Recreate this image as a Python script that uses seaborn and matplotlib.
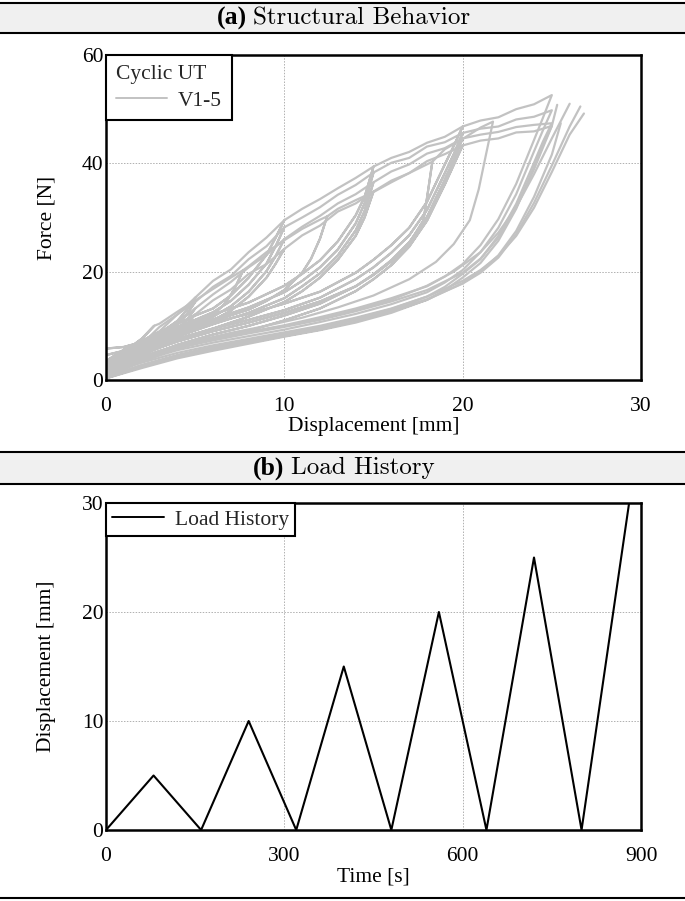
import numpy as np
import pandas as pd
import seaborn as sns
import matplotlib.pyplot as plt
from matplotlib.patches import Rectangle
from matplotlib.lines import Line2D

# ---- data ----
# virgin loading envelope, displacement grid [mm]
env_d = [0, 1, 2, 3, 4, 5, 6, 7, 8, 9, 10, 11, 12, 13, 14, 15, 16, 17, 18, 19, 20, 21, 22, 23, 24, 25]

# unloading paths (displacement points) for the regular 5/10/15/20/25 cycles
rd5 = [5, 4.5, 4, 3, 2, 1, 0]
rd10 = [10, 9.5, 9, 8, 7, 6, 5, 4, 3, 2, 1, 0]
rd15 = [15, 14.5, 14, 13, 12, 11, 10, 8, 6, 4, 2, 0]
rd20 = [20, 19.5, 19, 18, 17, 16, 15, 14, 12, 10, 8, 6, 4, 2, 0]
rd25 = [25, 24.5, 24, 23, 22, 21, 20, 19, 18, 16, 14, 12, 10, 8, 6, 4, 2, 0]

# V1
v1_env = [1.5, 4.4, 6.6, 9.8, 12.1, 15.2, 18.3, 20.4, 23.6, 26.3, 29.0, 31.6, 33.4, 35.4, 37.3, 39.1,
          41.0, 42.1, 43.8, 44.9, 46.4, 47.9, 48.5, 50.0, 50.9, 52.3]
v1_r5 = [15.2, 12.8, 10.9, 8.6, 7.0, 6.1, 5.8]
v1_r10 = [29.5, 26.2, 23.1, 18.9, 15.6, 13.2, 11.9, 10.4, 8.9, 7.2, 5.6, 3.5]
v1_r15 = [39.4, 33.8, 30.4, 25.6, 22.1, 19.6, 17.4, 14.3, 12.1, 9.8, 6.9, 3.1]
v1_r20 = [46.8, 43.2, 39.8, 32.9, 28.1, 24.9, 22.2, 19.8, 16.3, 14.1, 12.2, 10.6, 8.4, 6.1, 2.6]
v1_r25 = [52.6, 48.4, 44.3, 36.2, 29.7, 24.9, 21.4, 19.1, 17.3, 15.1, 13.2, 11.6, 10.1, 8.9, 7.6, 6.3, 4.4, 1.8]
v1_fd = [0, 2, 4, 6, 8, 10, 12, 14, 16, 18, 20, 21, 22, 23, 24, 25, 25.3]
v1_ff = [1.5, 4.0, 5.9, 7.3, 8.6, 9.8, 11.1, 12.7, 14.5, 16.6, 19.8, 22.4, 26.3, 31.8, 38.9, 46.9, 50.8]

# V2
v2_env = [2.5, 4.6, 7.2, 9.0, 12.1, 14.3, 17.2, 19.2, 22.3, 24.7, 27.4, 30.0, 31.9, 34.2, 36.0, 38.0,
          40.1, 41.0, 43.1, 43.9, 45.3, 46.4, 46.8, 48.1, 48.6, 49.6]
v2_r5 = [14.4, 12.0, 10.3, 8.1, 6.4, 4.6, 2.9]
v2_r10 = [28.2, 24.6, 21.5, 17.6, 14.6, 12.5, 11.1, 9.8, 8.1, 6.6, 5.4, 4.6]
v2_r15 = [38.3, 32.6, 28.9, 24.1, 20.8, 18.3, 16.2, 13.4, 11.2, 8.9, 6.1, 2.4]
v2_r20 = [45.6, 41.7, 38.2, 31.4, 26.7, 23.5, 20.8, 18.6, 15.2, 12.9, 11.1, 9.5, 7.6, 5.2, 1.9]
v2_r25 = [49.8, 46.1, 42.2, 34.3, 28.1, 23.6, 20.3, 18.0, 16.2, 14.0, 12.2, 10.7, 9.3, 8.1, 6.9, 5.5, 3.6, 1.2]
v2_fd = [0, 2, 4, 6, 8, 10, 12, 14, 16, 18, 20, 21, 22, 23, 24, 25, 26, 26.8]
v2_ff = [1.0, 3.2, 5.0, 6.4, 7.6, 8.8, 10.0, 11.5, 13.2, 15.4, 18.3, 20.3, 22.9, 26.6, 31.8, 38.4, 45.3, 49.2]

# V3
v3_env = [0.8, 3.2, 5.4, 8.3, 10.5, 13.2, 15.8, 18.1, 20.8, 23.1, 25.8, 28.3, 30.3, 32.6, 34.3, 36.4,
          38.5, 39.8, 41.8, 42.8, 44.4, 45.3, 45.8, 46.7, 47.1, 47.9]
v3_r5 = [13.2, 10.9, 9.2, 7.3, 5.6, 3.9, 1.8]
v3_r10 = [26.0, 22.8, 20.1, 16.3, 13.6, 11.7, 10.3, 9.0, 7.4, 5.8, 4.1, 1.6]
v3_r15 = [36.5, 31.2, 27.6, 23.0, 19.7, 17.3, 15.1, 12.4, 10.3, 8.0, 5.2, 1.3]
v3_r20 = [44.6, 40.6, 37.0, 30.1, 25.4, 22.1, 19.5, 17.3, 14.1, 11.9, 10.0, 8.4, 6.5, 4.1, 0.8]
v3_r25 = [47.4, 44.0, 40.1, 32.5, 26.6, 22.3, 19.6, 17.2, 15.4, 13.1, 11.3, 9.8, 8.6, 7.2, 6.0, 4.5, 2.6, 0.4]
v3_fd = [0, 2, 4, 6, 8, 10, 12, 14, 16, 18, 20, 21, 22, 23, 24, 25, 26, 26.6]
v3_ff = [0.6, 2.8, 4.6, 6.1, 7.3, 8.4, 9.6, 11.1, 12.8, 14.9, 17.8, 19.8, 22.6, 26.9, 32.7, 39.6, 46.8, 50.5]

# V4 (shifted peaks)
v4_env = [2.0, 4.9, 7.6, 10.4, 12.6, 14.7, 16.8, 18.9, 21.0, 23.6, 25.8, 27.9, 29.6, 31.6, 33.2, 34.7,
          36.5, 38.2, 39.8, 42.6, 44.5, 46.6, 48.1, 49.0, 49.8, 50.4]
v4_rd1 = [2.7, 2, 1, 0]
v4_rf1 = [10.0, 7.6, 5.2, 3.0]
v4_rd2 = [7.7, 7.2, 6.7, 6, 5, 4, 3, 2, 1, 0]
v4_rf2 = [20.3, 16.8, 14.2, 12.0, 10.6, 9.3, 7.9, 6.4, 4.6, 2.4]
v4_rd3 = [12.4, 12, 11.5, 11, 10, 9, 8, 6, 4, 2, 0]
v4_rf3 = [30.2, 26.1, 22.4, 19.8, 16.6, 14.6, 13.0, 10.9, 8.7, 6.0, 2.1]
v4_rd4 = [18.3, 18, 17.8, 17, 16, 15, 14, 12, 10, 8, 6, 4, 2, 0]
v4_rf4 = [40.3, 33.6, 29.5, 25.2, 21.9, 19.4, 17.3, 14.5, 12.4, 10.6, 9.0, 7.1, 4.8, 1.5]
v4_rd5 = [21.7, 21.3, 20.9, 20.4, 19.5, 18.5, 17, 15, 13, 11, 9, 7, 5, 3, 1, 0]
v4_rf5 = [47.7, 41.5, 35.2, 29.5, 25.1, 21.8, 18.6, 15.6, 13.4, 11.5, 10.0, 8.7, 7.2, 5.4, 3.0, 1.1]
v4_fd = [0, 2, 4, 6, 8, 10, 12, 14, 16, 18, 19.5, 21, 22, 23, 24, 25, 26]
v4_ff = [1.0, 3.9, 6.0, 7.5, 8.8, 10.0, 11.3, 12.9, 14.8, 17.4, 20.0, 23.6, 27.2, 31.9, 38.0, 44.6, 51.0]

# V5
v5_env = [1.2, 3.6, 5.3, 7.9, 9.7, 12.1, 14.7, 16.7, 19.6, 21.4, 24.1, 26.7, 28.5, 31.1, 32.6, 34.6,
          36.8, 38.2, 40.4, 41.7, 43.2, 44.2, 44.6, 45.7, 45.9, 46.8]
v5_r5 = [12.1, 10.1, 8.6, 6.8, 5.0, 3.3, 1.0]
v5_r10 = [24.2, 21.4, 18.9, 15.4, 12.8, 11.0, 9.6, 8.3, 6.8, 5.1, 3.5, 0.9]
v5_r15 = [34.8, 30.0, 26.6, 22.2, 18.9, 16.4, 14.4, 11.7, 9.5, 7.4, 4.6, 0.7]
v5_r20 = [43.3, 39.7, 36.1, 29.4, 24.6, 21.2, 18.6, 16.4, 13.2, 11.0, 9.1, 7.6, 5.8, 3.5, 0.5]
v5_r25 = [46.9, 43.4, 39.3, 31.6, 25.7, 21.6, 18.9, 16.6, 14.8, 12.4, 10.6, 9.2, 8.0, 6.7, 5.4, 4.0, 2.2, 0.3]
v5_fd = [0, 2, 4, 6, 8, 10, 12, 14, 16, 18, 20, 21, 22, 23, 24, 25, 25.5]
v5_ff = [0.3, 2.4, 4.2, 5.7, 6.9, 8.1, 9.3, 10.8, 12.6, 14.8, 17.9, 20.1, 23.0, 27.5, 33.8, 41.6, 47.4]

# load history
load_t = [0, 80, 160, 240, 320, 400, 480, 560, 640, 720, 800, 880]
load_d = [0, 5, 0, 10, 0, 15, 0, 20, 0, 25, 0, 30]


def trace(env_f, cycles, fin_d, fin_f):
    # loading along envelope, unload, reload along same path, continue
    d, f = [], []
    prev = -1
    for i, (rd, rf) in enumerate(cycles):
        p = rd[0]
        for x, y in zip(env_d, env_f):
            if prev < x < p:
                d.append(x)
                f.append(y)
        d += rd
        f += rf
        if i < len(cycles) - 1:
            d += rd[::-1]
            f += rf[::-1]
        prev = p
    d += fin_d
    f += fin_f
    return d, f


specimens = {
    'V1': trace(v1_env, [(rd5, v1_r5), (rd10, v1_r10), (rd15, v1_r15), (rd20, v1_r20), (rd25, v1_r25)], v1_fd, v1_ff),
    'V2': trace(v2_env, [(rd5, v2_r5), (rd10, v2_r10), (rd15, v2_r15), (rd20, v2_r20), (rd25, v2_r25)], v2_fd, v2_ff),
    'V3': trace(v3_env, [(rd5, v3_r5), (rd10, v3_r10), (rd15, v3_r15), (rd20, v3_r20), (rd25, v3_r25)], v3_fd, v3_ff),
    'V4': trace(v4_env, [(v4_rd1, v4_rf1), (v4_rd2, v4_rf2), (v4_rd3, v4_rf3), (v4_rd4, v4_rf4), (v4_rd5, v4_rf5)], v4_fd, v4_ff),
    'V5': trace(v5_env, [(rd5, v5_r5), (rd10, v5_r10), (rd15, v5_r15), (rd20, v5_r20), (rd25, v5_r25)], v5_fd, v5_ff),
}
rows = []
for name, (d, f) in specimens.items():
    for x, y in zip(d, f):
        rows.append((name, x, y))
df = pd.DataFrame(rows, columns=['specimen', 'disp', 'force'])

sns.set_theme(style='white')
plt.rcParams['font.family'] = ['Liberation Serif', 'DejaVu Serif']
plt.rcParams['font.size'] = 15.5

fig = plt.figure(figsize=(6.85, 9.01), dpi=100)
ax1 = fig.add_axes([106/685, 1-380/901, 535/685, 325/901])
ax2 = fig.add_axes([106/685, 1-830/901, 535/685, 327/901])

gray = '#c2c2c2'
sns.lineplot(data=df, x='disp', y='force', units='specimen', estimator=None, sort=False,
             color=gray, lw=1.6, legend=False, ax=ax1)
sns.lineplot(x=load_t, y=load_d, color='black', lw=1.5, ax=ax2)

ax1.set_xlim(0, 30)
ax1.set_ylim(0, 60)
ax1.set_xticks([0, 10, 20, 30])
ax1.set_yticks([0, 20, 40, 60])
ax2.set_xlim(0, 900)
ax2.set_ylim(0, 30)
ax2.set_xticks([0, 300, 600, 900])
ax2.set_yticks([0, 10, 20, 30])

for ax in (ax1, ax2):
    ax.grid(True, ls=(0, (1.5, 1.5)), color='#b0b0b0', lw=0.7)
    for s in ax.spines.values():
        s.set_color('black')
        s.set_linewidth(1.8)
        s.set_zorder(5)
    ax.tick_params(axis='x', length=0, pad=12, labelsize=15.5, colors='black')
    ax.tick_params(axis='y', length=0, pad=2, labelsize=15.5, colors='black')

ax1.set_xlabel('Displacement [mm]', fontsize=15.5, color='black')
ax1.set_ylabel('Force [N]', fontsize=15.5, color='black')
ax2.set_xlabel('Time [s]', fontsize=15.5, color='black')
ax2.set_ylabel('Displacement [mm]', fontsize=15.5, color='black')
ax1.xaxis.set_label_coords(0.5, -0.115)
ax2.xaxis.set_label_coords(0.5, -0.115)
ax1.yaxis.set_label_coords(-0.093, 0.5)
ax2.yaxis.set_label_coords(-0.093, 0.5)

leg1 = ax1.legend(handles=[Line2D([], [], color=gray, lw=1.4)], labels=['V1-5'], title='Cyclic UT',
                  loc='upper left', borderaxespad=0, fancybox=False, edgecolor='black', framealpha=1,
                  alignment='left', handlelength=2.4, fontsize=15.5, title_fontsize=15.5,
                  borderpad=0.45, labelspacing=0.3, handletextpad=0.5)
leg1.get_frame().set_linewidth(1.5)
leg1._legend_box.sep = 5
leg2 = ax2.legend(handles=[Line2D([], [], color='black', lw=1.4)], labels=['Load History'],
                  loc='upper left', borderaxespad=0, fancybox=False, edgecolor='black', framealpha=1,
                  handlelength=2.4, fontsize=15.5, borderpad=0.3, handletextpad=0.5)
leg2.get_frame().set_linewidth(1.5)

# title bars
for y0, y1 in [(3, 33), (452, 484)]:
    fig.add_artist(Rectangle((-0.01, 1-y1/901), 1.02, (y1-y0)/901, transform=fig.transFigure,
                             facecolor='#f0f0f0', edgecolor='black', lw=1.5))
fig.add_artist(Line2D([0, 1], [1-898/901, 1-898/901], transform=fig.transFigure, color='black', lw=1.5))

renderer = fig.canvas.get_renderer()
for tag, txt, yc in [('(a)', 'Structural Behavior', 18), ('(b)', 'Load History', 468)]:
    y = 1 - yc/901
    t1 = fig.text(0, y, tag, weight='bold', fontsize=18.5, ha='left', va='center', color='black')
    t2 = fig.text(0, y, txt, family='cmr10', fontsize=18, ha='left', va='center', color='black')
    w1 = t1.get_window_extent(renderer).width / 685
    w2 = t2.get_window_extent(renderer).width / 685
    gap = 6 / 685
    x0 = 0.502 - (w1 + gap + w2) / 2
    t1.set_x(x0)
    t2.set_x(x0 + w1 + gap)

fig.savefig('out.png', dpi=100)
